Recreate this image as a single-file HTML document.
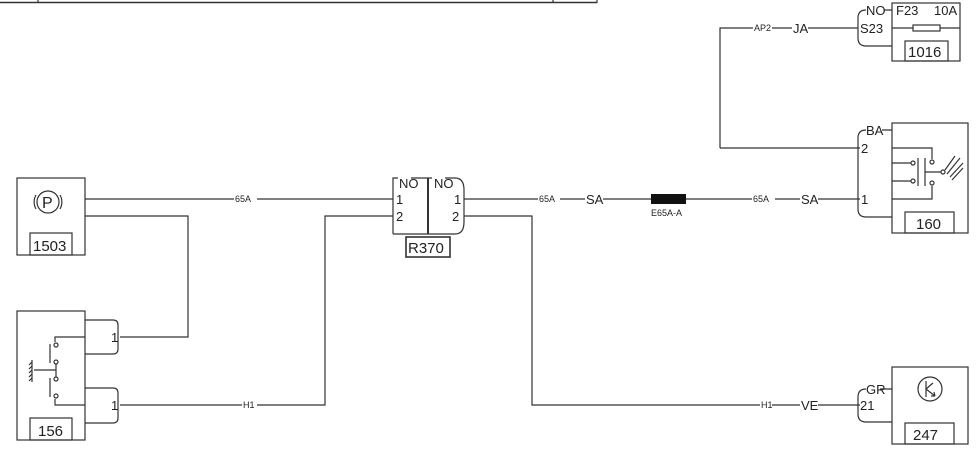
<!DOCTYPE html>
<html><head><style>
html,body{margin:0;padding:0;background:#fff;}
svg{display:block;}
text{font-family:"Liberation Sans",sans-serif;fill:#222;}
.s{font-size:9px;}
.m{font-size:13px;}
.l{font-size:15px;}
</style></head><body>
<svg width="976" height="465" viewBox="0 0 976 465" fill="none" stroke="#333" stroke-width="1.2">
<!-- top border -->
<line x1="0" y1="2.5" x2="597" y2="2.5" stroke-width="1.6"/>
<line x1="38" y1="0" x2="38" y2="3"/>
<line x1="553" y1="0" x2="553" y2="3"/>
<line x1="597" y1="0" x2="597" y2="3"/>

<!-- 1503 -->
<rect x="17" y="178" width="68" height="77"/>
<rect x="30" y="233" width="42" height="22"/>
<text class="l" x="33" y="251" stroke="none">1503</text>
<circle cx="48" cy="202" r="11"/>
<path d="M36 195 A14 14 0 0 0 36 209 M60 195 A14 14 0 0 1 60 209"/>
<text x="42" y="208" stroke="none" style="font-size:16px">P</text>

<!-- wires left -->
<path d="M85 199 H234 M257 199 H393"/>
<text class="s" x="235" y="202" stroke="none">65A</text>
<path d="M85 216 H188 V337 H120"/>
<path d="M120 405 H242 M257 405 H325 V216 H393"/>
<text class="s" x="243" y="408" stroke="none">H1</text>

<!-- 156 -->
<rect x="17" y="311" width="68" height="129"/>
<rect x="30" y="418" width="42" height="22"/>
<text class="l" x="38" y="436" stroke="none">156</text>
<path d="M85 320 H113 Q118 320 118 325 V349 Q118 354 113 354 H85"/>
<path d="M85 388 H113 Q118 388 118 393 V418 Q118 423 113 423 H85"/>
<text class="m" x="111" y="342" stroke="none">1</text>
<text class="m" x="111" y="410" stroke="none">1</text>
<path d="M85 337 H55 V342 M85 405 H55 V399"/>
<circle cx="56" cy="345" r="2"/><circle cx="56" cy="362" r="2"/>
<circle cx="56" cy="379" r="2"/><circle cx="56" cy="396" r="2"/>
<path d="M50 344 V363 M50 378 V397 M34 370 H56 V364 M56 370 V377 M32 360 V382"/>
<path d="M32 362 l-3 3 M32 366 l-3 3 M32 370 l-3 3 M32 374 l-3 3 M32 378 l-3 3"/>

<!-- R370 -->
<path d="M393 234 V178 H398 M411 178 H432 M445 178 H455 Q464 178 464 190 V222 Q464 234 455 234 H393"/>
<line x1="428" y1="178" x2="428" y2="234" stroke-width="2"/>
<text class="m" x="399" y="188" stroke="none">NO</text>
<text class="m" x="434" y="188" stroke="none">NO</text>
<text class="m" x="396" y="204" stroke="none">1</text>
<text class="m" x="396" y="221" stroke="none">2</text>
<text class="m" x="454" y="204" stroke="none">1</text>
<text class="m" x="452" y="221" stroke="none">2</text>
<rect x="406" y="237" width="44" height="20" stroke-width="1.6"/>
<text class="l" x="408" y="253" stroke="none">R370</text>

<!-- right wires -->
<path d="M464 199 H538 M560 199 H585 M603 199 H651 M686 199 H752 M775 199 H800 M818 199 H860"/>
<text class="s" x="539" y="202" stroke="none">65A</text>
<text class="m" x="586" y="204" stroke="none">SA</text>
<rect x="651" y="194" width="35" height="10" fill="#111" stroke="none"/>
<text class="s" x="651" y="216" stroke="none">E65A-A</text>
<text class="s" x="753" y="202" stroke="none">65A</text>
<text class="m" x="801" y="204" stroke="none">SA</text>
<path d="M464 216 H532 V405 H760 M772 405 H800 M818 405 H860"/>
<text class="s" x="761" y="408" stroke="none">H1</text>
<text class="m" x="801" y="410" stroke="none">VE</text>

<!-- 160 -->
<rect x="892" y="123" width="76" height="110"/>
<rect x="905" y="212" width="49" height="21"/>
<text class="l" x="916" y="229" stroke="none">160</text>
<path d="M866 130 Q858 130 858 138 V209 Q858 217 866 217 H892 M882 130 H892"/>
<text class="m" x="866" y="135" stroke="none">BA</text>
<text class="m" x="861" y="153" stroke="none">2</text>
<text class="m" x="861" y="204" stroke="none">1</text>
<path d="M892 148 H932 V159 M892 163 H911 M892 181 H911 M892 199 H932 V186"/>
<circle cx="913" cy="163" r="2"/><circle cx="913" cy="181" r="2"/>
<circle cx="932" cy="162" r="2"/><circle cx="932" cy="183" r="2"/>
<path d="M918 158 V186 M925 158 V186 M925 172 H941"/>
<circle cx="943" cy="172" r="2"/>
<path d="M945 170 L955 156 M947 174 L960 158 M950 177 L963 163 M952 180 L963 168"/>

<!-- 1016 -->
<rect x="892" y="3" width="68" height="58"/>
<rect x="905" y="41" width="43" height="20"/>
<text class="l" x="908" y="57" stroke="none">1016</text>
<path d="M866 10 Q858 10 858 18 V38 Q858 46 866 46 H892 M884 10 H892"/>
<text class="m" x="866" y="15" stroke="none">NO</text>
<text class="m" x="896" y="15" stroke="none">F23</text>
<text class="m" x="934" y="15" stroke="none">10A</text>
<text class="m" x="860" y="33" stroke="none">S23</text>
<path d="M892 28 H913 M940 28 H960"/>
<rect x="913" y="25" width="27" height="6"/>
<path d="M720 148 V28 H753 M772 28 H792 M808 28 H858"/>
<text class="s" x="754" y="31" stroke="none">AP2</text>
<text class="m" x="793" y="33" stroke="none">JA</text>
<path d="M720 148 H860"/>

<!-- 247 -->
<rect x="892" y="367" width="76" height="77"/>
<rect x="905" y="423" width="49" height="21"/>
<text class="l" x="913" y="440" stroke="none">247</text>
<path d="M866 389 Q858 389 858 397 V414 Q858 422 866 422 H892 M880 389 H892"/>
<text class="m" x="866" y="394" stroke="none">GR</text>
<text class="m" x="860" y="410" stroke="none">21</text>
<circle cx="930" cy="389" r="12"/>
<path d="M926 381 V397 M926 389 L933 383 M926 389 L935 396 M935 396 l-4 0 M935 396 l-1 -4"/>
</svg>
</body></html>
